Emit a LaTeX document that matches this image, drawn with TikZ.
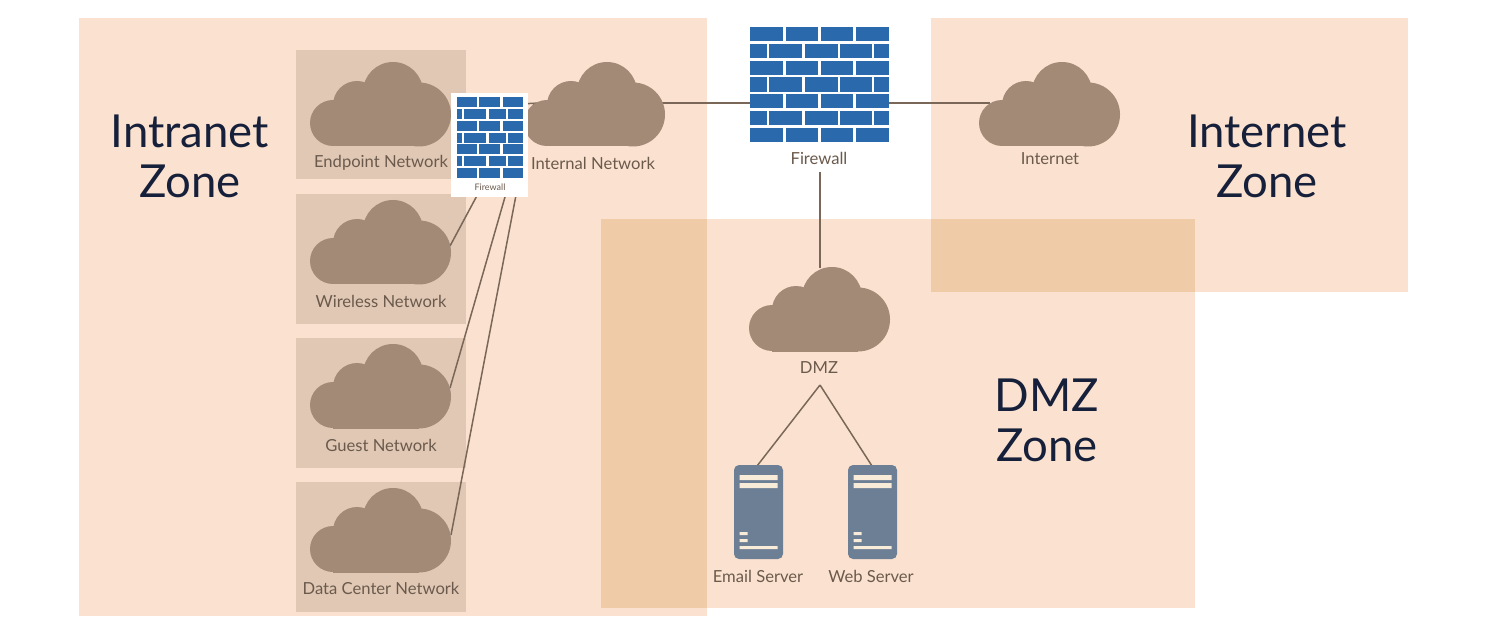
\documentclass[tikz,border=0pt]{standalone}
\usepackage{fontspec}
\setmainfont{Lato}
\usetikzlibrary{positioning}
\definecolor{zonefill}{HTML}{FBE2D0}
\definecolor{zonedark}{HTML}{EFCBA8}
\definecolor{netbox}{HTML}{E0C8B5}
\definecolor{cloudfill}{HTML}{A28A77}
\definecolor{linkcol}{HTML}{7A6757}
\definecolor{labelcol}{HTML}{6B5A4C}
\definecolor{zonetext}{HTML}{16203A}
\definecolor{brickcol}{HTML}{2A69AC}
\definecolor{servercol}{HTML}{6D7F95}
\definecolor{barcol}{HTML}{F8EBD8}
\tikzset{
  zone/.style={fill=zonefill, draw=none},
  overlap/.style={fill=zonedark, draw=none},
  netbg/.style={fill=netbox, draw=none},
  zonelabel/.style={text=zonetext, align=center, inner sep=0pt, font=\fontsize{45.5}{50}\selectfont},
  netlabel/.style={text=labelcol, inner sep=0pt, font=\fontsize{16.6}{18}\selectfont},
  link/.style={draw=linkcol, line width=1.5pt},
  cloud/.pic={
    \fill[cloudfill] (-47.5,18) circle[radius=23];
    \fill[cloudfill] (-23.5,0) circle[radius=24];
    \fill[cloudfill] (12.5,-13) circle[radius=30];
    \fill[cloudfill] (38.5,9.5) circle[radius=32];
    \fill[cloudfill] (-47.5,5) rectangle (38.5,41.5);
  },
  server/.pic={
    \fill[servercol, rounded corners=5pt] (-24.5,0) rectangle (24.5,94);
    \fill[barcol] (-19,10) rectangle (19,15) (-19,18) rectangle (19,23)
      (-19,67) rectangle (-11,70) (-19,74) rectangle (-11,77) (-19,81) rectangle (19,84);
  },
}
% one row of bricks: x, y, wall width, brick height, list of from/to as fractions of the wall
\newcommand{\brickrow}[5]{\foreach \a/\b in {#5}
  \fill[brickcol] ({#1+\a*#3},#2) rectangle ({#1+\b*#3},#2+#4);}
\begin{document}
\begin{tikzpicture}[x=1pt, y=-1pt]
\useasboundingbox[fill=white] (0,0) rectangle (1503,617);
% zones
\fill[zone] (79,18) rectangle (707,616);
\fill[zone] (931,18) rectangle (1408,292);
\fill[zone] (601,219) rectangle (1195,608);
\fill[overlap] (601,219) rectangle (707,608);
\fill[overlap] (931,219) rectangle (1195,292);
\node[zonelabel] (intranetzone) at (190,156) {Intranet\\Zone};
\node[zonelabel] (internetzone) at (1267,156) {Internet\\Zone};
\node[zonelabel] (dmzzone) at (1047,420) {DMZ\\Zone};
% network boxes
\foreach \y in {50,194,338,482}
  \fill[netbg] (296,\y) rectangle (466,\y+129.5);
% anchors of the links
\coordinate (wlink) at (450,246);
\coordinate (glink) at (450,388);
\coordinate (dlink) at (451,535);
\coordinate (ilink) at (540,103);
\coordinate (ilinkb) at (534,103);
\coordinate (iout) at (660,103);
\coordinate (inetin) at (990,103);
\coordinate (dmzup) at (820,268);
\coordinate (sfwa) at (480,190);
\coordinate (sfwb) at (507,190);
\coordinate (sfwc) at (517,190);
\coordinate (sfwd) at (520,104);
\coordinate (sfwe) at (528,130);
\coordinate (bfwl) at (760,103);
\coordinate (bfwr) at (880,103);
\coordinate (bfwb) at (820,172);
\coordinate (dmztip) at (820,385);
\coordinate (mailtop) at (757,466);
\coordinate (webtop) at (872,466);
% links
\draw[link] (sfwa) -- (wlink);
\draw[link] (sfwb) -- (glink);
\draw[link] (sfwc) -- (dlink);
\draw[link] (sfwd) -- (ilink);
\draw[link] (sfwe) -- (ilinkb);
\draw[link] (iout) -- (bfwl);
\draw[link] (bfwr) -- (inetin);
\draw[link] (bfwb) -- (dmzup);
\draw[link] (dmztip) -- (mailtop);
\draw[link] (dmztip) -- (webtop);
% clouds
\pic at (380.5,105) {cloud};
\pic at (380.5,243) {cloud};
\pic at (380.5,387) {cloud};
\pic at (380.5,531) {cloud};
\pic at (594.5,105) {cloud};
\pic at (1049.5,105) {cloud};
\pic at (819.5,310) {cloud};
\node[netlabel] (endpoint) at (381,163) {Endpoint Network};
\node[netlabel] (wireless) at (381,301) {Wireless Network};
\node[netlabel] (guest) at (381,445) {Guest Network};
\node[netlabel] (datacenter) at (381,588) {Data Center Network};
\node[netlabel] (internal) at (593,163) {Internal Network};
\node[netlabel] (internet) at (1050,159) {Internet};
\node[netlabel] (dmz) at (819,368) {DMZ};
% small firewall
\fill[white] (451,93) rectangle (528,197);
\foreach \r in {0,2,4,6}
  \brickrow{457}{97.5+\r*11.7}{66}{10}{0/.3,.34/.65,.69/1};
\foreach \r in {1,3,5}
  \brickrow{457}{97.5+\r*11.7}{66}{10}{0/.07,.11/.44,.48/.74,.78/1};
\node[netlabel, font=\fontsize{9}{10}\selectfont] (fwsmall) at (490,187) {Firewall};
% big firewall
\foreach \r in {0,2,4,6}
  \brickrow{750}{27+\r*16.8}{139}{14.3}{0/.24,.26/.49,.51/.74,.76/1};
\foreach \r in {1,3,5}
  \brickrow{750}{27+\r*16.8}{139}{14.3}{0/.12,.14/.375,.395/.63,.65/.875,.895/1};
\node[netlabel] (fwbig) at (819,158) {Firewall};
% servers
\pic at (758.5,465) {server};
\pic at (872.5,465) {server};
\node[netlabel] (mail) at (758,576) {Email Server};
\node[netlabel] (web) at (871,576) {Web Server};
\end{tikzpicture}
\end{document}
